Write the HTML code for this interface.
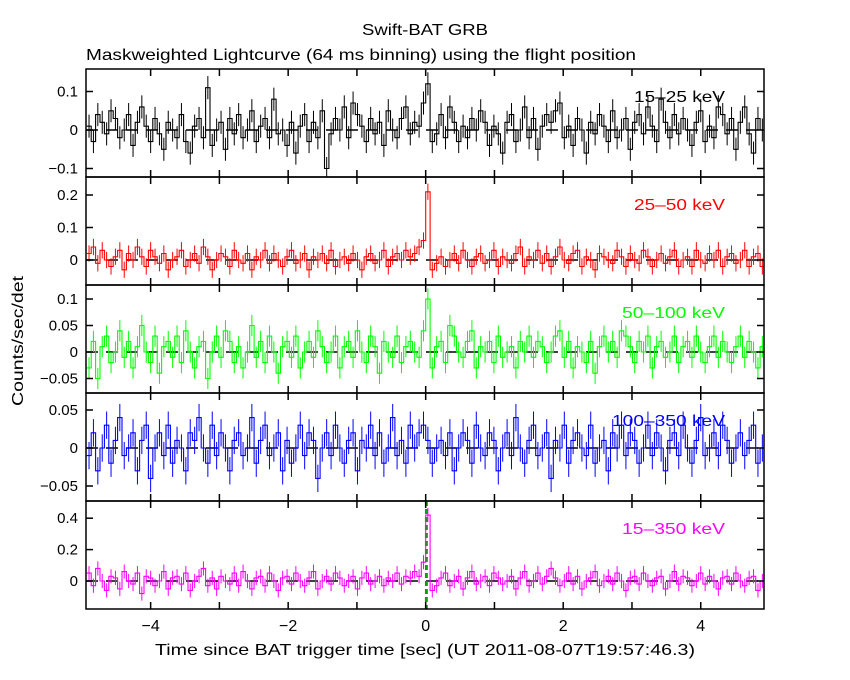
<!DOCTYPE html>
<html><head><meta charset="utf-8"><style>
body{margin:0;background:#fff;}
svg{display:block;font-family:"Liberation Sans",sans-serif;}
</style></head><body>
<svg id="chart" width="850" height="680" viewBox="0 0 850 680" xmlns="http://www.w3.org/2000/svg">
<rect width="850" height="680" fill="#fff"/>
<text x="362" y="35" font-size="16" textLength="126" lengthAdjust="spacingAndGlyphs">Swift-BAT GRB</text>
<text x="86" y="60" font-size="16" textLength="550" lengthAdjust="spacingAndGlyphs">Maskweighted Lightcurve (64 ms binning) using the flight position</text>
<text transform="translate(23,341) rotate(-90)" font-size="16" text-anchor="middle" textLength="130" lengthAdjust="spacingAndGlyphs">Counts/sec/det</text>
<text x="155" y="655" font-size="16" textLength="540" lengthAdjust="spacingAndGlyphs">Time since BAT trigger time [sec] (UT 2011-08-07T19:57:46.3)</text>
<g id="panels"></g>
</svg>
<script>
const binStart = -4.928;
const binWidth = 0.064;
const xTicks = [-4,-3,-2,-1,0,1,2,3,4];
const xTickLabels = [-4,-2,0,2,4];
const s1525 = [1,-3,4,2,-1,5,3,-2,0,4,-4,2,6,1,-3,3,-1,-5,2,0,-2,4,-3,-6,1,3,-2,11,-4,0,2,-5,3,-1,4,-2,0,5,-3,1,3,-2,8,-1,0,-4,2,-6,1,4,-3,2,-2,5,-10,-1,3,0,6,-2,7,4,1,-3,3,-1,2,-4,5,0,-2,3,6,-1,2,1,7,12,-3,-1,4,-2,6,2,-3,1,-2,3,0,5,2,-4,1,-1,-6,2,4,-3,0,6,-2,3,-5,1,4,2,5,7,-2,1,-4,3,0,-6,2,-1,4,1,-3,5,-2,0,3,-5,2,4,-1,6,1,-3,8,2,-2,4,-1,3,0,-4,2,5,-3,1,-2,6,4,-1,3,-5,2,6,-1,-6,3,0].map(v=>v/100);
const s2550 = [2,4,-1,3,0,-2,1,3,-3,2,0,4,1,-2,3,1,-1,2,-3,0,1,3,-2,0,2,-1,4,1,-3,0,2,1,-2,3,0,-1,2,-3,1,0,3,-1,2,0,-2,1,3,-1,0,2,-3,1,0,2,-1,3,-2,0,1,-1,2,0,-3,1,2,-1,0,3,-2,1,2,0,3,1,2,4,6,21,-3,-1,1,-2,0,2,-1,3,0,-2,1,2,-1,0,3,-2,1,0,-1,2,4,-2,1,0,3,-1,2,-2,1,4,0,-1,2,3,-2,1,0,-3,2,1,0,-1,3,1,-2,2,0,-1,3,1,-2,0,2,-1,1,3,-2,0,1,-2,3,0,-1,2,0,3,-2,1,2,-1,0,3,-2,1,2,-2].map(v=>v/100);
const s50100 = [-3,2,-5,1,3,-2,0,4,-1,2,-3,1,5,0,-2,3,-4,1,2,-1,3,-2,4,0,-3,1,2,-5,0,3,-1,4,2,-2,1,-3,0,5,-1,2,-2,3,0,-4,1,2,-1,3,-3,0,2,-1,4,1,-2,0,3,-3,1,2,-1,4,0,-2,3,1,-4,2,0,-1,3,-2,1,2,0,-1,4,10,-3,1,2,-2,5,3,0,-1,2,4,-3,1,0,2,-2,3,-1,0,1,-3,2,0,3,-1,2,1,-2,0,3,4,-1,2,-3,1,0,-2,2,-4,1,3,0,2,-1,4,3,1,-2,2,0,3,-3,1,2,-1,0,3,-2,1,2,-1,3,0,-2,1,3,-1,2,0,-2,1,3,-1,2,0,-3,1].map(v=>v/100);
const s100350 = [-1,2,-3,0,3,-2,1,4,-1,0,2,-3,1,3,-4,0,2,-1,3,-2,1,0,-3,2,1,4,0,-2,3,-1,2,0,-3,1,2,-1,0,4,-2,1,3,-1,0,2,-3,1,-2,0,3,-1,2,1,-4,0,2,-1,3,0,-2,1,2,-3,1,0,3,-1,2,-2,0,4,-1,1,-2,3,0,2,3,1,-2,0,1,-1,2,-3,0,2,1,-2,3,0,-1,2,1,-3,0,2,-1,4,0,-2,1,3,-1,0,2,-4,1,0,3,-2,1,2,0,-1,3,-2,0,1,-3,2,0,3,-1,2,1,-2,0,3,-1,2,0,-3,1,2,-1,3,0,-2,1,4,-1,0,2,-1,3,1,-2,0,2,-1,1,3,-2,0].map(v=>v/100);
const s15350 = [5,-3,8,0,-6,3,2,-5,6,0,-2,5,-8,3,2,-3,0,6,-5,2,3,-2,5,-6,0,3,8,-3,2,-5,3,0,-2,5,-3,6,0,-5,2,3,-3,5,0,-6,2,3,-2,5,0,-3,2,6,-5,0,3,-2,5,2,-3,0,3,-5,2,5,-2,0,3,-3,2,0,5,-2,3,2,6,3,12,42,-6,-3,2,5,-3,0,3,-5,2,6,-2,0,3,-3,5,2,-2,0,3,-5,2,6,-3,0,5,-2,3,8,2,-3,0,5,-2,3,-5,0,2,6,-3,0,3,-2,5,0,-6,2,3,-2,5,0,-3,2,3,-5,0,6,-2,3,2,-3,0,5,-2,3,0,-5,2,3,-2,5,0,-3,2,3,-6,0].map(v=>v/100);
const yTicks1 = [-0.1,0,0.1];
const yTicks2 = [0,0.1,0.2];
const yTicks3 = [-0.05,0,0.05,0.1];
const yTicks4 = [-0.05,0,0.05];
const yTicks5 = [0,0.2,0.4];
const errs = [0.03,0.025,0.02,0.018,0.045];

const NS="http://www.w3.org/2000/svg";
const X0=86,X1=764,T0=-4.94,T1=4.92;
const xs=t=>X0+(t-T0)/(T1-T0)*(X1-X0);
const fmt=v=>v===0?'0':String(v).replace('-','\u2212');
const panels=[
 {name:'15-25',data:s1525,ticks:yTicks1,top:69,zeroY:130,ppu:385,color:'#000',label:'15\u201325 keV',lw:91},
 {name:'25-50',data:s2550,ticks:yTicks2,top:177,zeroY:260,ppu:325,color:'#ff0000',label:'25\u201350 keV',lw:91},
 {name:'50-100',data:s50100,ticks:yTicks3,top:285,zeroY:352,ppu:530,color:'#00ff00',label:'50\u2013100 keV',lw:103},
 {name:'100-350',data:s100350,ticks:yTicks4,top:393,zeroY:448,ppu:760,color:'#0000ff',label:'100\u2013350 keV',lw:113},
 {name:'15-350',data:s15350,ticks:yTicks5,top:501,zeroY:581,ppu:157,color:'#ff00ff',label:'15\u2013350 keV',lw:103}
];
const root=document.getElementById('panels');
function mk(tag,attrs,parent){const e=document.createElementNS(NS,tag);for(const k in attrs)e.setAttribute(k,attrs[k]);parent.appendChild(e);return e;}
panels.forEach((p,pi)=>{
 const g=mk('g',{},root);
 
 
 const H=108,bot=p.top+H;
 const ys=v=>p.zeroY-v*p.ppu;
 const cp='clip'+pi;
 const c=mk('clipPath',{id:cp},g);mk('rect',{x:X0,y:p.top,width:X1-X0,height:H},c);
 const dg=mk('g',{'clip-path':'url(#'+cp+')'},g);
 const zl=mk('line',{x1:X0,x2:X1,y1:p.zeroY,y2:p.zeroY,stroke:'#000','stroke-dasharray':'12,8','stroke-width':1.5},dg);
 
 
 if(pi===4){
  [0,0.02].forEach(t=>{const l=mk('line',{x1:xs(t),x2:xs(t),y1:p.top,y2:bot,stroke:'#00a000','stroke-dasharray':'5,3','stroke-width':1.5},dg);
   
   });
 }
 let d='';
 p.data.forEach((v,i)=>{const a=xs(binStart+i*binWidth),b=xs(binStart+(i+1)*binWidth),y=ys(v);
  d+=(i===0?'M':'L')+a.toFixed(1)+','+y.toFixed(1)+'L'+b.toFixed(1)+','+y.toFixed(1);
  const m=(a+b)/2;
  const eb=mk('line',{x1:m,x2:m,y1:ys(v+errs[pi]),y2:ys(v-errs[pi]),stroke:p.color,'stroke-width':1},dg);
  
  
 });
 const path=mk('path',{d:d,fill:'none',stroke:p.color,'stroke-width':1.1},dg);
 
 
 const fr=mk('rect',{x:X0,y:p.top,width:X1-X0,height:H,fill:'none',stroke:'#000','stroke-width':1.5},g);
 
 
 xTicks.forEach(t=>{const x=xs(t);
  mk('line',{x1:x,x2:x,y1:p.top,y2:p.top+7,stroke:'#000','stroke-width':1.5},g);
  mk('line',{x1:x,x2:x,y1:bot,y2:bot-7,stroke:'#000','stroke-width':1.5},g);});
 p.ticks.forEach(v=>{const y=ys(v);
  mk('line',{x1:X0,x2:X0+7,y1:y,y2:y,stroke:'#000','stroke-width':1.5},g);
  mk('line',{x1:X1,x2:X1-7,y1:y,y2:y,stroke:'#000','stroke-width':1.5},g);
  const tl=mk('text',{x:X0-8,y:y+5,'font-size':15,'text-anchor':'end'},g);
  
  
  tl.textContent=fmt(v);});
 const lb=mk('text',{x:725-p.lw,y:p.top+33,'font-size':16,fill:p.color,textLength:p.lw,lengthAdjust:'spacingAndGlyphs'},g);
 
 
 lb.textContent=p.label;
 if(pi===4){xTickLabels.forEach(t=>{const tl=mk('text',{x:xs(t),y:bot+22,'font-size':16,'text-anchor':'middle'},g);
  
  
  tl.textContent=fmt(t);});}
});
</script>
</body></html>
